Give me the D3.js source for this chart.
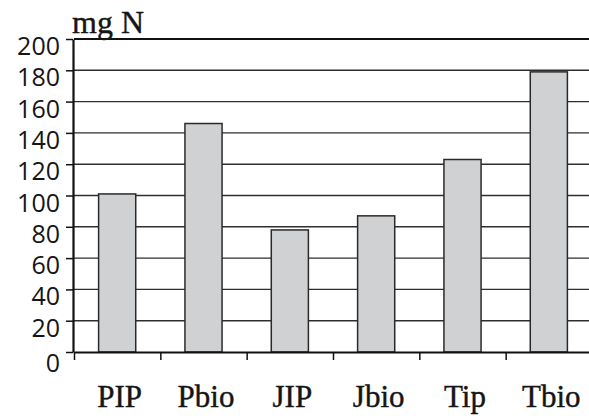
<!DOCTYPE html>
<html><head><meta charset="utf-8">
<script src="https://cdn.jsdelivr.net/npm/d3@7"></script>
<style>body{margin:0;background:#fff}svg{display:block}</style>
</head><body>
<script>
const categories = ["PIP", "Pbio", "JIP", "Jbio", "Tip", "Tbio"];
const values = [101, 146, 78, 87, 123, 179];
const yTicks = [0, 20, 40, 60, 80, 100, 120, 140, 160, 180, 200];
const yLabel = "mg N";

const W = 589, H = 418;
const mLeft = 74, mRight = 592, mTop = 39, mBottom = 352;
const svg = d3.select("body").append("svg").attr("width", W).attr("height", H);

const y = d3.scaleLinear().domain([0, 200]).range([mBottom, mTop]);
const x = d3.scaleBand().domain(categories).range([mLeft, mRight]).paddingInner(0.57).paddingOuter(0.285);
const xb = d3.scaleLinear().domain([0, categories.length]).range([mLeft, mRight]);

// gridlines
svg.append("g").selectAll("line").data(yTicks.filter(d => d > 0 && d < 200)).join("line")
  .attr("x1", mLeft).attr("x2", W).attr("y1", d => y(d)).attr("y2", d => y(d))
  .attr("stroke", "#2e2e2e").attr("stroke-width", 1.4);
// top border line
svg.append("line").attr("x1", mLeft).attr("x2", W).attr("y1", y(200)).attr("y2", y(200))
  .attr("stroke", "#111").attr("stroke-width", 2.2);

// bars
svg.append("g").selectAll("rect").data(categories).join("rect")
  .attr("x", d => x(d)).attr("width", x.bandwidth())
  .attr("y", (d, i) => y(values[i])).attr("height", (d, i) => y(0) - y(values[i]))
  .attr("fill", "#d0d1d3").attr("stroke", "#2a2a2a").attr("stroke-width", 1.5);

// y axis
const ya = svg.append("g").attr("transform", `translate(${mLeft - 1},0)`)
  .call(d3.axisLeft(y).tickValues(yTicks).tickSize(7).tickSizeOuter(0).tickFormat(d3.format("d")));
ya.select(".domain").attr("stroke", "#111").attr("stroke-width", 2.2);
ya.selectAll(".tick line").attr("stroke", "#111").attr("stroke-width", 1.5);
ya.selectAll(".tick text").attr("font-family", "'Open Sans', sans-serif").attr("font-size", 25)
  .attr("font-weight", 500).attr("fill", "#151515").attr("x", -13).attr("dy", "0.62em");
ya.select(".tick:first-of-type text").attr("dy", "0.78em");

// x axis
const xa = svg.append("g").attr("transform", `translate(0,${mBottom})`)
  .call(d3.axisBottom(xb).tickValues(d3.range(categories.length + 1)).tickSize(8).tickSizeOuter(0).tickFormat(""));
xa.select(".domain").attr("stroke", "#111").attr("stroke-width", 2.2);
xa.selectAll(".tick line").attr("stroke", "#111").attr("stroke-width", 1.5);

// category labels
svg.append("g").selectAll("text").data(categories).join("text")
  .attr("x", d => x(d) + x.bandwidth() / 2 + 2.5).attr("y", 407)
  .attr("text-anchor", "middle").attr("font-family", "'Liberation Serif', serif").attr("font-size", 31)
  .attr("fill", "#151515").attr("stroke", "#151515").attr("stroke-width", 0.4).text(d => d);

// unit label
svg.append("text").attr("x", 72).attr("y", 33).attr("font-family", "'Liberation Serif', serif")
  .attr("font-size", 32).attr("fill", "#151515").attr("stroke", "#151515").attr("stroke-width", 0.4).text(yLabel);
</script>
</body></html>
